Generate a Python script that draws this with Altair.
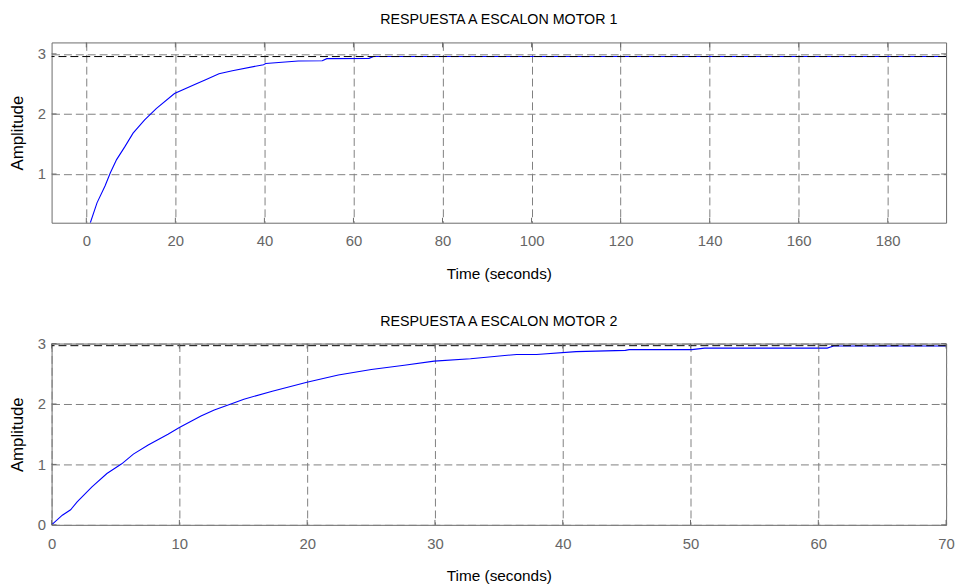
import altair as alt
import pandas as pd

# ---------------- data ----------------
title1 = "RESPUESTA A ESCALON MOTOR 1"
title2 = "RESPUESTA A ESCALON MOTOR 2"
xlabel = "Time (seconds)"
ylabel = "Amplitude"

t1 = [0.9, 2.4, 4.2, 5.4, 6.8, 8.7, 10.5, 13.1, 15.7, 19.8, 24.6, 26.8, 29.8,
      32.8, 39.8, 40.3, 47.6, 53.0, 54.0, 63.5, 64.5, 193.1]
y1 = [0.19, 0.52, 0.80, 1.02, 1.24, 1.46, 1.68, 1.90, 2.09, 2.34, 2.50, 2.57, 2.67,
      2.72, 2.82, 2.84, 2.88, 2.885, 2.92, 2.925, 2.955, 2.955]
final1 = 2.955

t2 = [0, 0.84, 1.49, 2.0, 3.16, 4.33, 5.49, 6.40, 7.56, 9.11, 10.0, 11.69, 12.73,
      13.76, 15.05, 17.27, 19.98, 22.44, 25.02, 27.6, 29.94, 32.78, 36.4, 37.95,
      41.05, 44.9, 45.2, 50.1, 51.1, 60.7, 61.2, 70.0]
y2 = [0, 0.16, 0.25, 0.38, 0.63, 0.85, 1.01, 1.17, 1.32, 1.50, 1.61, 1.80, 1.90,
      1.98, 2.08, 2.21, 2.36, 2.48, 2.57, 2.64, 2.71, 2.75, 2.82, 2.82,
      2.866, 2.887, 2.90, 2.90, 2.925, 2.925, 2.96, 2.96]
final2 = 2.965

x1_ticks = [0, 20, 40, 60, 80, 100, 120, 140, 160, 180]
y1_ticks = [1, 2, 3]
x1_domain = [-7.8, 193.1]
y1_domain = [0.19, 3.19]

x2_ticks = [0, 10, 20, 30, 40, 50, 60, 70]
y2_ticks = [0, 1, 2, 3]
x2_domain = [0, 70]
y2_domain = [0, 3]

# ---------------- style ----------------
FONT = "Liberation Sans, Arial, sans-serif"
GRID = "#808080"
EDGE = "#6b6b6b"
W = 903
TICK = 5


def panel(t, y, final, xt, yt, xd, yd, title, h, title_offset):
    xs = alt.Scale(domain=xd, nice=False, zero=False)
    ys = alt.Scale(domain=yd, nice=False, zero=False)
    xaxis = alt.Axis(values=xt, title=xlabel, grid=True, gridDash=[8, 4], gridColor=GRID,
                     gridOpacity=1, ticks=False, domain=False, labelFont=FONT,
                     labelFontSize=15, labelColor="#666666", labelPadding=11.5,
                     labelFlush=False, titleFont=FONT, titleFontSize=15.5,
                     titleFontWeight="normal", titleColor="black", titlePadding=18)
    yaxis = alt.Axis(values=yt, title=ylabel, grid=True, gridDash=[8, 4], gridColor=GRID,
                     gridOpacity=1, ticks=False, domain=False, labelFont=FONT,
                     labelFontSize=15, labelColor="#666666", labelPadding=6,
                     labelFlush=False, titleFont=FONT, titleFontSize=17,
                     titleFontWeight="normal", titleColor="black", titlePadding=11)
    curve = pd.DataFrame({"t": t, "y": y})
    ss = pd.DataFrame({"y": [final]})
    xtk = pd.DataFrame({"t": xt})
    ytk = pd.DataFrame({"y": yt})

    X = alt.X("t:Q", scale=xs, axis=xaxis)
    Y = alt.Y("y:Q", scale=ys, axis=yaxis)

    base_line = alt.Chart(curve).mark_line(color="#0000ff", strokeWidth=1.1, clip=True).encode(
        x=X, y=Y)
    ss_line = alt.Chart(ss).mark_rule(color="black", strokeDash=[8, 4], strokeWidth=1).encode(
        y=Y)
    top_t = alt.Chart(xtk).mark_rule(color=EDGE, strokeWidth=1).encode(
        x=X, y=alt.value(0), y2=alt.value(TICK))
    bot_t = alt.Chart(xtk).mark_rule(color=EDGE, strokeWidth=1).encode(
        x=X, y=alt.value(h), y2=alt.value(h - TICK))
    left_t = alt.Chart(ytk).mark_rule(color=EDGE, strokeWidth=1).encode(
        y=Y, x=alt.value(0), x2=alt.value(TICK))
    right_t = alt.Chart(ytk).mark_rule(color=EDGE, strokeWidth=1).encode(
        y=Y, x=alt.value(W), x2=alt.value(W - TICK))

    return alt.layer(base_line, ss_line, top_t, bot_t, left_t, right_t).properties(
        width=W, height=h,
        title=alt.TitleParams(title, font=FONT, fontSize=14.4, fontWeight="normal",
                              color="black", anchor="middle", offset=title_offset),
    )


p1 = panel(t1, y1, final1, x1_ticks, y1_ticks, x1_domain, y1_domain, title1, 182, 15)
p2 = panel(t2, y2, final2, x2_ticks, y2_ticks, x2_domain, y2_domain, title2, 183, 7)

chart = alt.vconcat(p1, p2, spacing=31).configure(
    padding={"left": 0, "top": 0, "right": 0, "bottom": 0},
    background="white",
).configure_view(stroke=EDGE, strokeWidth=1)

chart.save("out.html", embed_options={"renderer": "svg", "actions": False})
